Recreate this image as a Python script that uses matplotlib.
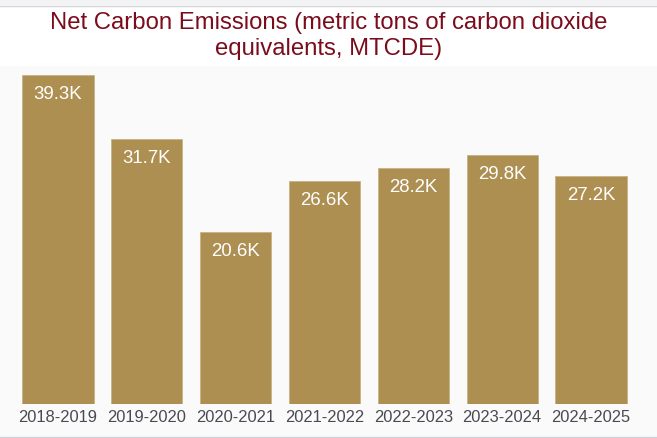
import matplotlib
matplotlib.use("Agg")
import matplotlib.pyplot as plt
from matplotlib.patches import Rectangle

plt.rcParams['font.family'] = ['Liberation Sans', 'DejaVu Sans']

# data
years = ["2018-2019", "2019-2020", "2020-2021", "2021-2022",
         "2022-2023", "2023-2024", "2024-2025"]
emissions_k = [39.3, 31.7, 20.6, 26.6, 28.2, 29.8, 27.2]
labels = ["39.3K", "31.7K", "20.6K", "26.6K", "28.2K", "29.8K", "27.2K"]

W, H = 657, 438
fig = plt.figure(figsize=(W / 100, H / 100), dpi=100)
fig.patch.set_facecolor("white")

# top strip and plot background
fig.patches.append(Rectangle((0, 1 - 5 / H), 1, 5 / H, transform=fig.transFigure,
                             facecolor="#f3f3f5", edgecolor="none", zorder=0))
fig.add_artist(plt.Line2D([0, 1], [1 - 5.5 / H, 1 - 5.5 / H], color="#d4d4d8", lw=1))
fig.patches.append(Rectangle((0, 2 / H), 1, (435 - 65) / H, transform=fig.transFigure,
                             facecolor="#fafafa", edgecolor="none", zorder=0))
fig.add_artist(plt.Line2D([0, 1], [1.5 / H, 1.5 / H], color="#cfd0da", lw=1))

# axes: x from 13.6px to 635.4px, y from 404px (bottom) to 65px (top)
left, right = 13.6 / W, 635.4 / W
bottom, top = (H - 404) / H, (H - 65) / H
ax = fig.add_axes([left, bottom, right - left, top - bottom])
ax.set_facecolor("none")
ax.set_zorder(2)

x = range(len(years))
ax.bar(x, emissions_k, width=0.8, color="#ae8f52", edgecolor="#c9b184", linewidth=0.6)
ax.set_xlim(-0.5, len(years) - 0.5)
ax.set_ylim(0, 40.5)

for i, v in enumerate(emissions_k):
    ax.annotate(labels[i], (i, v), xytext=(0, -14), textcoords="offset points",
                ha="center", va="center", color="white", fontsize=13.4)

ax.set_xticks(list(x))
ax.set_xticklabels(years, fontsize=11.9, color="#4a4a52")
ax.tick_params(axis="x", length=0, pad=4)
ax.set_yticks([])
for s in ax.spines.values():
    s.set_visible(False)

fig.text(0.5, 1 - 23 / H, "Net Carbon Emissions (metric tons of carbon dioxide",
         ha="center", va="center", color="#7a0c1c", fontsize=17.2)
fig.text(0.5, 1 - 49 / H, "equivalents, MTCDE)",
         ha="center", va="center", color="#7a0c1c", fontsize=17.2)

fig.savefig("out.png", dpi=100)
